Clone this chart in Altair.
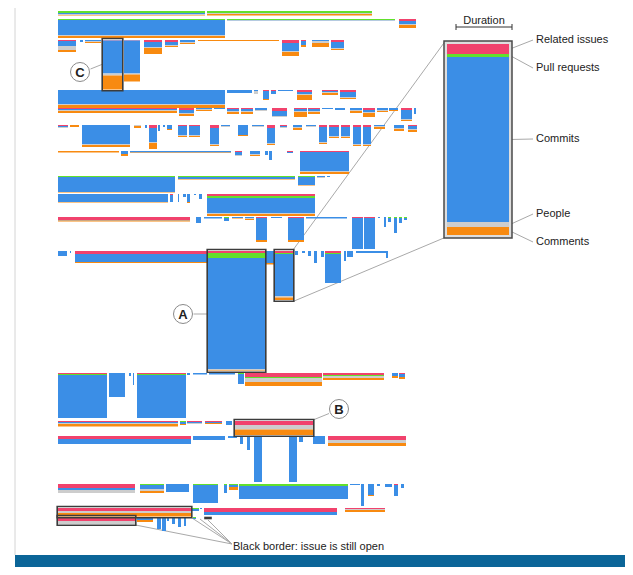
import altair as alt
import pandas as pd

# ---------------- data ----------------
LAYERS = ["Related issues", "Pull requests", "Commits", "People", "Comments"]
COLORS = ["#f1426d", "#62e02c", "#3b8ee6", "#cdcdcd", "#f88a10"]

ROW_TOPS = [11, 19, 40, 90, 108, 125, 151, 176, 194, 217, 251, 373, 421, 436, 484, 508, 517]

# each issue: (start, end, related, pulls, commits, people, comments)
ROW0 = [(58, 205, 0, 2, 1, 1, 0.5), (207, 372, 0, 2, 0, 1, 1.5)]
ROW1 = [(58, 225, 0, 1, 15, 1, 2), (227, 395, 0, 1, 0.5, 0.5, 0), (399, 416, 2, 0, 3, 1, 3)]
ROW2 = [(58, 76, 1, 0, 5, 4, 2), (80, 83, 0, 0, 2, 0, 0), (85, 101, 0, 0, 1, 1, 1),
        (103, 122, 0.5, 0, 33, 2, 14), (124, 140, 0.5, 0, 33, 1, 7), (144, 162, 2, 0, 5, 1, 6),
        (165, 178, 2, 0, 3, 1, 1), (180, 195, 0, 0, 2, 1, 1), (198, 279, 0, 0, 0, 0, 1),
        (282, 299, 3, 0, 8, 1, 4), (301, 306, 1, 0, 4, 0, 2), (312, 329, 0, 0, 1, 2, 4),
        (331, 344, 2, 0, 6, 1, 1)]
ROW3 = [(58, 225, 0, 0, 14, 1, 3), (227, 252, 0, 0, 3, 0, 0), (254, 258, 0, 0, 1, 3, 0),
        (263, 269, 1, 0, 8, 0, 1), (271, 276, 1, 0, 3, 0, 0), (278, 293, 0, 0, 1, 0, 0),
        (297, 312, 2, 0, 2, 1, 5), (322, 338, 1, 0, 1, 1, 2), (340, 356, 2, 0, 5, 1, 1)]
ROW4 = [(58, 177, 1, 0, 1, 1, 2), (179, 194, 2, 0, 3, 1, 2), (196, 212, 0, 0, 1, 1, 1),
        (214, 225, 0, 0, 1, 0, 0), (227, 239, 1, 0, 2, 1, 2), (241, 253, 1, 0, 2, 1, 2),
        (255, 267, 0, 0, 2, 1, 0), (272, 287, 3, 0, 5, 1, 0), (294, 307, 1, 0, 2, 1, 5),
        (308, 320, 1, 0, 2, 1, 2), (322, 333, 0, 0, 1, 0, 0), (335, 345, 0, 0, 2, 0, 0),
        (350, 362, 0, 0, 2, 1, 2), (363, 375, 2, 0, 2, 1, 4), (377, 388, 0, 0, 2, 1, 1),
        (389, 398, 0, 0, 2, 0, 1), (401, 412, 2, 0, 9, 1, 1), (414, 416, 0, 0, 6, 0, 0)]
ROW5 = [(58, 68, 1, 0, 1, 1, 0), (70, 79, 0, 0, 0, 0, 2), (82, 130, 0, 0, 19, 1, 2),
        (134, 141, 0, 0, 0, 1, 2), (145, 147, 0, 0, 3, 0, 0), (149, 157, 3, 0, 14, 1, 6),
        (158, 160, 0, 0, 6, 0, 0), (163, 165, 0, 0, 2, 0, 0), (167, 172, 0, 0, 4, 0, 1),
        (178, 187, 1, 0, 9, 1, 1), (189, 200, 1, 0, 9, 1, 1), (210, 219, 3, 0, 16, 1, 1),
        (221, 230, 0, 0, 1, 1, 0), (238, 248, 0, 0, 10, 0, 1), (252, 264, 0, 0, 1, 1, 0),
        (267, 275, 3, 0, 15, 1, 1), (280, 287, 1, 0, 1, 1, 0), (293, 302, 0, 0, 2, 1, 2),
        (306, 316, 0, 0, 1, 1, 0), (319, 327, 2, 0, 15, 1, 1), (329, 339, 2, 0, 9, 1, 1),
        (341, 350, 2, 0, 9, 1, 1), (353, 361, 2, 0, 17, 1, 1), (363, 371, 2, 0, 17, 1, 1),
        (374, 385, 0, 0, 1, 1, 2), (394, 404, 0, 0, 3, 1, 2), (408, 417, 1, 0, 3, 1, 2)]
ROW6 = [(58, 119, 0, 0, 0, 0, 1.5), (121, 128, 0, 0, 3, 0, 2), (130, 231, 0, 0, 1.5, 0, 0.5),
        (235, 242, 1, 0, 3, 1, 0), (250, 260, 0, 0, 3, 1, 1), (265, 268, 0, 0, 4, 0, 0),
        (269, 272, 0, 0, 9, 0, 0), (287, 293, 1, 0, 1, 0, 0), (300, 349, 1, 0, 19, 1, 2)]
ROW7 = [(58, 175, 0, 1, 15, 0, 0.5), (178, 295, 0, 1, 2, 0, 0.5), (298, 315, 0, 1, 8, 0, 0.5),
        (317, 325, 0, 0, 1, 1, 0), (327, 330, 0, 0, 1, 0, 0)]
ROW8 = [(58, 168, 0, 0, 8, 0, 0.5), (170, 173, 1, 0, 7, 0, 0), (178, 179, 0, 0, 8, 0, 0),
        (183, 186, 0, 0, 3, 0, 0), (187, 190, 0, 0, 8, 0, 1), (194, 196, 0, 0, 1, 0, 0),
        (199, 202, 0, 0, 5, 0, 0), (207, 315, 2, 2, 15, 1, 2)]
ROW9 = [(58, 190, 3, 0, 0.5, 0, 1), (196, 201, 0, 0, 6, 0, 0), (204, 222, 0, 0, 1.5, 0, 0),
        (224, 229, 0, 1, 3, 0, 0), (232, 243, 0, 0, 1, 0, 0.5), (245, 254, 0, 0, 1, 1, 1),
        (256, 267, 1, 0, 22, 0, 2), (271, 282, 0, 0, 1, 0, 0), (288, 304, 1, 0, 22, 0, 2),
        (306, 347, 0, 0, 1.5, 0, 0), (352, 363, 1, 0, 31, 0, 0), (364, 375, 1, 0, 31, 0, 0),
        (378, 380, 0, 0, 1, 0, 0), (384, 386, 0, 0, 10, 0, 0), (388, 391, 0, 1, 4, 0, 0),
        (394, 397, 0, 1, 15, 0, 0), (399, 402, 0, 1, 5, 0, 0), (404, 407, 0, 1, 2, 0, 0)]
ROW10 = [(58, 67, 0, 0, 5, 0, 0), (70, 71, 0, 0, 2, 0, 0), (75, 207, 3, 0, 8, 0, 1),
         (208, 265, 2, 5, 111, 1.5, 0.5), (266, 274, 0, 0, 12, 0, 1.5),
         (275, 293, 2, 1, 42, 1.5, 2.5), (295, 298, 0, 0, 4, 0, 0), (302, 305, 0, 0, 2, 0, 0),
         (308, 311, 0, 0, 5, 0, 0), (314, 317, 0, 0, 12, 0, 0), (321, 324, 0, 0, 6, 0, 0),
         (325, 341, 2, 1, 29, 0, 0), (344, 346, 0, 0, 10, 0, 0), (347, 353, 0, 0, 6, 0, 0),
         (356, 388, 0, 0, 2, 0, 0), (386, 388, 0, 0, 7, 0, 0)]
ROW11 = [(58, 107, 1, 1, 43, 0, 0), (109, 125, 0, 0, 24, 0, 0), (129, 131, 0, 0, 3, 0, 0),
         (133, 134, 0, 0, 12, 0, 0), (137, 186, 1, 1, 43, 0, 0), (187, 190, 0, 0, 2, 0, 0),
         (193, 207, 0, 0, 1.5, 0, 0), (209, 235, 0, 0, 1.5, 0, 0), (238, 244, 0, 1, 10, 0, 0),
         (245, 322, 4, 1, 0, 4, 4), (323, 384, 2, 1, 0, 2, 2), (392, 398, 0, 0, 3, 0, 2),
         (399, 405, 1, 0, 3, 0, 2)]
ROW12 = [(58, 178, 1, 0, 1, 1, 2.5), (180, 186, 0, 1, 2, 0, 1), (187, 202, 1, 0, 1, 1, 0),
         (205, 222, 1, 0, 1, 0, 1), (226, 232, 0, 0, 4, 0, 0), (235, 313, 4, 0, 0, 4.5, 5.5)]
ROW13 = [(58, 191, 3, 0, 5, 0, 0), (193, 225, 0, 0, 4, 0, 0), (228, 237, 0, 0, 2, 0, 0),
         (240, 243, 0, 0, 8, 0, 0), (247, 250, 0, 0, 14, 0, 0), (254, 262, 0, 0, 46, 0, 0),
         (289, 297, 0, 0, 46, 0, 0), (299, 303, 0, 0, 6, 0, 0), (313, 325, 0, 0, 8, 0, 0),
         (328, 406, 4, 0, 0, 3, 3)]
ROW14 = [(58, 135, 4, 0, 2, 3, 0), (140, 164, 0, 1, 4, 2, 2), (166, 189, 0, 0, 8, 0, 0),
         (193, 218, 0, 1, 18, 0, 0), (224, 227, 0, 1, 8, 0, 0), (229, 238, 0, 1, 2, 0, 3),
         (239, 348, 0, 2, 13, 0, 0), (350, 360, 0, 0, 1, 0, 0), (361, 364, 0, 0, 22, 0, 0),
         (368, 374, 0, 0, 11, 0, 1), (377, 380, 0, 0, 2, 0, 0), (385, 392, 0, 0, 3, 0, 0),
         (394, 398, 1, 0, 11, 0, 0), (401, 404, 0, 0, 4, 0, 0)]
ROW15 = [(58, 191, 3, 0, 0, 2, 3.5), (192, 199, 0, 1, 2, 0, 0), (200, 202, 0, 0, 1, 0, 0),
         (204, 337, 4, 0, 3, 0, 0), (345, 385, 1, 0, 0, 1, 2)]
ROW16 = [(58, 135, 4, 0, 0, 3, 0), (137, 153, 0, 0, 3, 0, 2), (157, 161, 0, 0, 12, 0, 0),
         (162, 166, 0, 0, 14, 0, 0), (167, 169, 0, 0, 4, 0, 0), (172, 175, 0, 1, 6, 0, 0),
         (178, 181, 0, 0, 10, 0, 0), (184, 186, 0, 1, 8, 0, 0), (193, 196, 0, 1, 1, 0, 0),
         (205, 211, 0, 0, 0, 0, 0)]

ROWS = [ROW0, ROW1, ROW2, ROW3, ROW4, ROW5, ROW6, ROW7, ROW8, ROW9, ROW10,
        ROW11, ROW12, ROW13, ROW14, ROW15, ROW16]

# issues drawn with a dark border: (row, start)
BORDERED = [(2, 103), (10, 208), (10, 275), (12, 235), (15, 58), (16, 58), (16, 205)]

# magnified issue on the right (legend)
LEGEND_X = (447, 509)
LEGEND_TOP = 44
LEGEND_VALUES = [10, 3, 165, 5, 8]
LABEL_X = 536
LABEL_Y = [40, 68, 139, 214, 242]

CALLOUTS = [("C", 80, 72), ("A", 183, 314), ("B", 339, 409)]

# ---------------- build tables ----------------
seg_rows, box_rows = [], []
for ri, (top, issues) in enumerate(zip(ROW_TOPS, ROWS)):
    for iss in issues:
        x0, x1 = iss[0], iss[1]
        y = top
        for name, h in zip(LAYERS, iss[2:]):
            if h > 0:
                seg_rows.append(dict(x=x0, x2=x1, y=y, y2=y + h, layer=name))
                y += h
        if (ri, x0) in BORDERED:
            if y == top:  # open issue with no activity yet: just a dark dash
                box_rows.append(dict(x=x0, x2=x1, y=top + 0.5, y2=top + 1.5))
            else:
                box_rows.append(dict(x=x0 - 0.8, x2=x1 + 0.8, y=top - 1.5, y2=y + 1.2))

y = LEGEND_TOP
leg_mid = []
for name, h in zip(LAYERS, LEGEND_VALUES):
    seg_rows.append(dict(x=LEGEND_X[0], x2=LEGEND_X[1], y=y, y2=y + h, layer=name))
    leg_mid.append(y + h / 2)
    y += h
legend_bottom = y

segs = pd.DataFrame(seg_rows)
boxes = pd.DataFrame(box_rows)

lines = pd.DataFrame(
    [dict(x=293, y=250, x2=LEGEND_X[0] - 2, y2=LEGEND_TOP - 2.5),
     dict(x=293, y=301.5, x2=LEGEND_X[0] - 2, y2=legend_bottom + 2.5),
     dict(x=90.5, y=69, x2=103, y2=64),
     dict(x=193.5, y=314, x2=207, y2=314),
     dict(x=329, y=413.5, x2=313, y2=420),
     dict(x=135.5, y=525, x2=232, y2=544),
     dict(x=192, y=518, x2=232, y2=544),
     dict(x=200, y=519, x2=232, y2=544),
     dict(x=208, y=520, x2=232, y2=544)]
    + [dict(x=LEGEND_X[1] + 1, y=m, x2=LABEL_X - 3, y2=ly) for m, ly in zip(leg_mid, LABEL_Y)]
)

bracket = pd.DataFrame([dict(x=456, y=27, x2=512, y2=27),
                        dict(x=456, y=24, x2=456, y2=30),
                        dict(x=512, y=24, x2=512, y2=30)])

labels = pd.DataFrame(dict(x=[LABEL_X] * 5, y=LABEL_Y, text=LAYERS))
circ = pd.DataFrame(CALLOUTS, columns=["text", "x", "y"])

XS = alt.Scale(domain=[8, 625], nice=False, zero=False)
YS = alt.Scale(domain=[8, 567], nice=False, zero=False, reverse=True)


def X(f="x"):
    return alt.X(f"{f}:Q", scale=XS, axis=None)


def Y(f="y"):
    return alt.Y(f"{f}:Q", scale=YS, axis=None)


# frame and footer
frame = alt.Chart(pd.DataFrame([dict(x=15, y=8, y2=555)])).mark_rule(
    color="#d4d4d4", strokeWidth=1).encode(x=X(), y=Y(), y2="y2:Q")
footer = alt.Chart(pd.DataFrame([dict(x=15, x2=625, y=555, y2=567)])).mark_rect(
    color="#0b6598").encode(x=X(), x2="x2:Q", y=Y(), y2="y2:Q")

legend_frame = alt.Chart(pd.DataFrame([dict(x=LEGEND_X[0] - 3, x2=LEGEND_X[1] + 3,
                                            y=LEGEND_TOP - 3, y2=legend_bottom + 3)])).mark_rect(
    fill="#dedede", stroke="#4a4a4a", strokeWidth=1.5).encode(x=X(), x2="x2:Q", y=Y(), y2="y2:Q")

seg_chart = alt.Chart(segs).mark_rect().encode(
    x=X(), x2="x2:Q", y=Y(), y2="y2:Q",
    color=alt.Color("layer:N", scale=alt.Scale(domain=LAYERS, range=COLORS), legend=None))

box_chart = alt.Chart(boxes).mark_rect(fillOpacity=0, stroke="#3c3c3c", strokeWidth=1.6).encode(
    x=X(), x2="x2:Q", y=Y(), y2="y2:Q")

line_chart = alt.Chart(lines).mark_rule(color="#a9a9a9", strokeWidth=1).encode(
    x=X(), y=Y(), x2="x2:Q", y2="y2:Q")

bracket_chart = alt.Chart(bracket).mark_rule(color="#333333", strokeWidth=1).encode(
    x=X(), y=Y(), x2="x2:Q", y2="y2:Q")

circles = alt.Chart(circ).mark_point(shape="circle", size=360, filled=True, fill="white",
                                     stroke="#8a8a8a", strokeWidth=1, opacity=1).encode(x=X(), y=Y())
circle_text = alt.Chart(circ).mark_text(font="Liberation Sans", fontSize=13, fontWeight="bold",
                                        color="#222222", dy=1).encode(x=X(), y=Y(), text="text:N")

label_text = alt.Chart(labels).mark_text(font="Liberation Sans", fontSize=11, align="left",
                                         baseline="middle", color="#222222").encode(
    x=X(), y=Y(), text="text:N")

dur_text = alt.Chart(pd.DataFrame([dict(x=484, y=21, text="Duration")])).mark_text(
    font="Liberation Sans", fontSize=11, baseline="middle", align="center", color="#222222").encode(
    x=X(), y=Y(), text="text:N")
note_text = alt.Chart(pd.DataFrame([dict(x=233, y=547, text="Black border: issue is still open")])).mark_text(
    font="Liberation Sans", fontSize=11, baseline="middle", align="left", color="#222222").encode(
    x=X(), y=Y(), text="text:N")

chart = alt.layer(
    frame, footer, line_chart, legend_frame, seg_chart, box_chart, bracket_chart,
    circles, circle_text, label_text, dur_text, note_text
).properties(width=617, height=559, autosize=alt.AutoSizeParams(type="none"), padding=0
).configure_view(stroke=None)

chart.save("out.html", embed_options={"renderer": "svg", "actions": False})
